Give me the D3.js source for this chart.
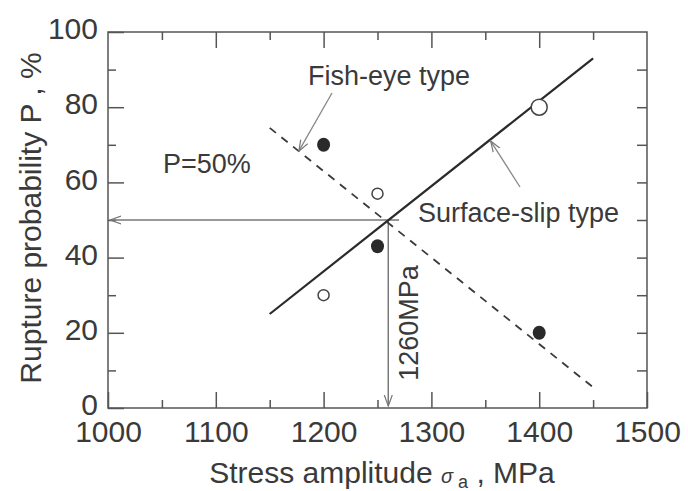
<!DOCTYPE html>
<html>
<head>
<meta charset="utf-8">
<script src="https://cdn.jsdelivr.net/npm/d3@7"></script>
<style>
  body { margin: 0; background: #fff; }
  text { font-family: Arial, "Liberation Sans", sans-serif; fill: #3a3a3a; }
</style>
</head>
<body>
<svg id="chart" width="688" height="491"></svg>
<script>
// values
var fishEye = [[1200, 70], [1250, 43], [1400, 20]];
var surfaceSlip = [[1200, 30], [1250, 57], [1400, 80]];
var fishEyeLine = [[1150, 74.5], [1450, 5.5]];
var surfaceLine = [[1150, 25], [1450, 93]];
var xMajor = [1000, 1100, 1200, 1300, 1400, 1500];
var xMinor = [1050, 1150, 1250, 1350, 1450];
var yMajor = [0, 20, 40, 60, 80, 100];
var yMinor = [10, 30, 50, 70, 90];
var crossAt = [1260, 50];

var svg = d3.select('#chart');
// plot box (window.top is reserved, so use other names)
var pLeft = 108, pRight = 647, pTop = 32, pBottom = 408;

var x = d3.scaleLinear().domain([1000, 1500]).range([pLeft, pRight]);
var y = d3.scaleLinear().domain([0, 100]).range([pBottom, pTop]);

var axisColor = '#555';
var g = svg.append('g');

// frame
g.append('rect')
  .attr('x', pLeft).attr('y', pTop)
  .attr('width', pRight - pLeft).attr('height', pBottom - pTop)
  .attr('fill', 'none').attr('stroke', axisColor).attr('stroke-width', 1.5);

function styleAxis(sel) {
  sel.select('.domain').remove();
  sel.selectAll('.tick line').attr('stroke', axisColor).attr('stroke-width', 1.5);
  sel.selectAll('.tick text').attr('fill', '#3a3a3a').style('font-size', '30px')
    .style('font-family', 'Arial, "Liberation Sans", sans-serif');
}

// bottom
g.append('g').attr('transform', `translate(0,${pBottom})`)
  .call(d3.axisBottom(x).tickValues(xMajor).tickSize(-16).tickPadding(13).tickFormat(d3.format('d')))
  .call(styleAxis);
g.append('g').attr('transform', `translate(0,${pBottom})`)
  .call(d3.axisBottom(x).tickValues(xMinor).tickSize(-8).tickFormat(''))
  .call(styleAxis);
// top
g.append('g').attr('transform', `translate(0,${pTop})`)
  .call(d3.axisTop(x).tickValues(xMajor.slice(1, -1)).tickSize(-16).tickFormat(''))
  .call(styleAxis);
g.append('g').attr('transform', `translate(0,${pTop})`)
  .call(d3.axisTop(x).tickValues(xMinor).tickSize(-8).tickFormat(''))
  .call(styleAxis);
// left
var yl = g.append('g').attr('transform', `translate(${pLeft},0)`)
  .call(d3.axisLeft(y).tickValues(yMajor).tickSize(-16).tickPadding(10))
  .call(styleAxis);
yl.selectAll('.tick text').attr('dy', '0.22em');
g.append('g').attr('transform', `translate(${pLeft},0)`)
  .call(d3.axisLeft(y).tickValues(yMinor).tickSize(-8).tickFormat(''))
  .call(styleAxis);
// right
g.append('g').attr('transform', `translate(${pRight},0)`)
  .call(d3.axisRight(y).tickValues(yMajor.concat(yMinor).filter(v => v > 0 && v < 100)).tickSize(-10).tickFormat(''))
  .call(styleAxis);

// axis titles
svg.append('text')
  .attr('transform', `translate(41,${(pTop + pBottom) / 2 - 2}) rotate(-90)`)
  .attr('text-anchor', 'middle')
  .style('font-size', '30px')
  .text('Rupture probability  P , %');

var xt = svg.append('text')
  .attr('x', 382).attr('y', 483)
  .attr('text-anchor', 'middle')
  .style('font-size', '30px');
xt.append('tspan').text('Stress amplitude  ');
xt.append('tspan').style('font-style', 'italic').style('font-size', '20px').text('σ');
xt.append('tspan').attr('dy', 5).style('font-size', '18px').text(' a');
xt.append('tspan').attr('dy', -5).text(' , MPa');

// arrow markers
var defs = svg.append('defs');
defs.append('marker').attr('id', 'arr')
  .attr('viewBox', '0 -5 12 10').attr('refX', 11).attr('refY', 0)
  .attr('markerWidth', 12).attr('markerHeight', 10).attr('markerUnits', 'userSpaceOnUse')
  .attr('orient', 'auto')
  .append('path').attr('d', 'M0,-4L11,0L0,4').attr('fill', 'none').attr('stroke', '#777').attr('stroke-width', 1.2);

// guide lines at P=50%
svg.append('line')
  .attr('x1', x(1270)).attr('y1', y(crossAt[1]))
  .attr('x2', x(1000) + 2).attr('y2', y(crossAt[1]))
  .attr('stroke', '#777').attr('stroke-width', 1.5).attr('marker-end', 'url(#arr)');
svg.append('line')
  .attr('x1', x(crossAt[0])).attr('y1', y(crossAt[1]))
  .attr('x2', x(crossAt[0])).attr('y2', y(0) - 2)
  .attr('stroke', '#777').attr('stroke-width', 1.5).attr('marker-end', 'url(#arr)');

// fitted lines
var line = d3.line().x(d => x(d[0])).y(d => y(d[1]));
svg.append('path').datum(surfaceLine).attr('d', line)
  .attr('fill', 'none').attr('stroke', '#2a2a2a').attr('stroke-width', 2.2);
svg.append('path').datum(fishEyeLine).attr('d', line)
  .attr('fill', 'none').attr('stroke', '#3a3a3a').attr('stroke-width', 1.8)
  .attr('stroke-dasharray', '8,7');

// points
svg.selectAll('.fe').data(fishEye).enter().append('ellipse').attr('class', 'fe')
  .attr('cx', d => x(d[0])).attr('cy', d => y(d[1]))
  .attr('rx', 6.5).attr('ry', 7).attr('fill', '#2a2a2a');
svg.selectAll('.ss').data(surfaceSlip).enter().append('circle').attr('class', 'ss')
  .attr('cx', d => x(d[0])).attr('cy', d => y(d[1]))
  .attr('r', (d, i) => i === 2 ? 8 : 5.5)
  .attr('fill', '#fff').attr('stroke', '#444').attr('stroke-width', 1.5);

// annotations
svg.append('text').attr('x', 308).attr('y', 85).style('font-size', '27px').text('Fish-eye type');
svg.append('text').attr('x', 163).attr('y', 173).style('font-size', '27px').text('P=50%');
svg.append('text').attr('x', 418).attr('y', 222).style('font-size', '27px').text('Surface-slip type');
svg.append('text')
  .attr('transform', `translate(418,${323}) rotate(-90)`)
  .attr('text-anchor', 'middle')
  .style('font-size', '27px')
  .text('1260MPa');

// pointer arrows to lines
svg.append('line').attr('x1', 332).attr('y1', 93).attr('x2', x(1177)).attr('y2', y(68.3))
  .attr('stroke', '#888').attr('stroke-width', 1.3).attr('marker-end', 'url(#arr)');
svg.append('line').attr('x1', 520).attr('y1', 187).attr('x2', x(1355)).attr('y2', y(71))
  .attr('stroke', '#888').attr('stroke-width', 1.3).attr('marker-end', 'url(#arr)');
</script>
</body>
</html>
